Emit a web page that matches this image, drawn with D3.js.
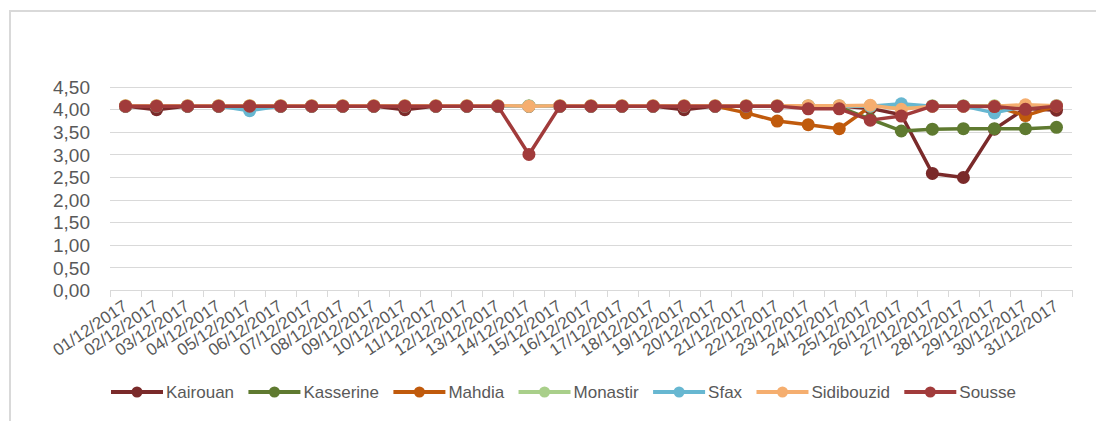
<!DOCTYPE html>
<html>
<head>
<meta charset="utf-8">
<script src="https://cdn.jsdelivr.net/npm/d3@7"></script>
<style>
  html, body { margin: 0; padding: 0; background: #ffffff; }
  svg { display: block; font-family: "Liberation Sans", Arial, sans-serif; }
</style>
</head>
<body>
<svg id="chart" width="1096" height="421"></svg>
<script>
// Daily values, December 2017
const dates = [
  "01/12/2017", "02/12/2017", "03/12/2017", "04/12/2017", "05/12/2017",
  "06/12/2017", "07/12/2017", "08/12/2017", "09/12/2017", "10/12/2017",
  "11/12/2017", "12/12/2017", "13/12/2017", "14/12/2017", "15/12/2017",
  "16/12/2017", "17/12/2017", "18/12/2017", "19/12/2017", "20/12/2017",
  "21/12/2017", "22/12/2017", "23/12/2017", "24/12/2017", "25/12/2017",
  "26/12/2017", "27/12/2017", "28/12/2017", "29/12/2017", "30/12/2017",
  "31/12/2017"
];

const seriesNames = ["Kairouan", "Kasserine", "Mahdia", "Monastir", "Sfax", "Sidibouzid", "Sousse"];
const seriesColors = ["#7a2a2a", "#5f7a30", "#c05a0c", "#a9cf8a", "#67b7d1", "#f5ae6f", "#a13b3b"];

const kairouan = [4.07, 3.99, 4.07, 4.07, 4.07, 4.07, 4.07, 4.07, 4.07, 3.99,
                  4.07, 4.07, 4.07, 4.07, 4.07, 4.07, 4.07, 4.07, 3.99, 4.07,
                  4.07, 4.07, 4.07, 4.07, 4.02, 3.88, 2.58, 2.49, 3.56, 4.02,
                  3.98];
const kasserine = [4.07, 4.07, 4.07, 4.07, 4.07, 4.07, 4.07, 4.07, 4.07, 4.07,
                   4.07, 4.07, 4.07, 4.07, 4.07, 4.07, 4.07, 4.07, 4.07, 4.07,
                   4.07, 4.07, 4.07, 4.05, 3.78, 3.52, 3.56, 3.57, 3.57, 3.57,
                   3.60];
const mahdia = [4.07, 4.07, 4.07, 4.07, 4.07, 4.07, 4.07, 4.07, 4.07, 4.07,
                4.07, 4.07, 4.07, 4.07, 4.07, 4.07, 4.07, 4.07, 4.07, 4.07,
                3.92, 3.74, 3.66, 3.57, 4.06, 4.07, 4.07, 4.07, 4.07, 3.86,
                4.07];
const monastir = [4.08, 4.08, 4.08, 4.08, 4.08, 4.08, 4.08, 4.08, 4.08, 4.08,
                  4.08, 4.08, 4.08, 4.08, 4.08, 4.08, 4.08, 4.08, 4.08, 4.08,
                  4.08, 4.08, 4.08, 4.08, 4.08, 4.08, 4.08, 4.08, 4.08, 4.08,
                  4.08];
const sfax = [4.07, 4.07, 4.07, 4.07, 3.97, 4.07, 4.07, 4.07, 4.07, 4.07,
              4.07, 4.07, 4.07, 4.07, 4.07, 4.07, 4.07, 4.07, 4.07, 4.07,
              4.07, 4.07, 4.07, 4.07, 4.07, 4.12, 4.07, 4.07, 3.92, 4.07,
              4.08];
const sidibouzid = [4.08, 4.08, 4.08, 4.08, 4.08, 4.08, 4.08, 4.08, 4.08, 4.08,
                    4.08, 4.08, 4.08, 4.07, 4.08, 4.08, 4.08, 4.08, 4.08, 4.08,
                    4.08, 4.08, 4.08, 4.08, 4.09, 4.00, 4.07, 4.07, 4.07, 4.10,
                    4.08];
const sousse = [4.07, 4.07, 4.07, 4.07, 4.07, 4.07, 4.07, 4.07, 4.07, 4.07,
                4.07, 4.07, 4.07, 3.00, 4.07, 4.07, 4.07, 4.07, 4.07, 4.07,
                4.07, 4.07, 4.01, 4.01, 3.76, 3.85, 4.07, 4.07, 4.06, 4.00,
                4.07];

const yTicks = [0, 0.5, 1, 1.5, 2, 2.5, 3, 3.5, 4, 4.5];

const seriesValues = [kairouan, kasserine, mahdia, monastir, sfax, sidibouzid, sousse];
const series = seriesNames.map((name, i) => ({ name, color: seriesColors[i], values: seriesValues[i] }));

// Layout
const plot = { left: 110, right: 1072, top: 86.7, bottom: 290 };
const textColor = "#595959";
const gridColor = "#d9d9d9";

const svg = d3.select("#chart");

// Chart frame (left and top edges)
svg.append("path")
  .attr("d", "M10,421 V11 H1096")
  .attr("fill", "none")
  .attr("stroke", "#d9d9d9")
  .attr("stroke-width", 2);

const x = d3.scaleBand().domain(dates).range([plot.left, plot.right]).padding(0);
const y = d3.scaleLinear().domain([0, 4.5]).range([plot.bottom, plot.top]);
const cx = d => x(d) + x.bandwidth() / 2;
const fmt = v => d3.format(".2f")(v).replace(".", ",");

// Horizontal gridlines
svg.append("g")
  .selectAll("line")
  .data(yTicks)
  .join("line")
  .attr("x1", plot.left).attr("x2", plot.right)
  .attr("y1", d => Math.round(y(d)) + 0.5).attr("y2", d => Math.round(y(d)) + 0.5)
  .attr("stroke", gridColor).attr("stroke-width", 1);

// Y axis labels
const yAxis = svg.append("g")
  .attr("transform", `translate(${plot.left - 20},0)`)
  .call(d3.axisLeft(y).tickValues(yTicks).tickFormat(fmt).tickSize(0).tickPadding(0));
yAxis.select(".domain").remove();
yAxis.selectAll("text")
  .attr("fill", textColor)
  .style("font-size", "19px")
  .attr("dy", "0.35em");

// X axis with tick marks on category boundaries
const boundaries = d3.range(dates.length + 1).map(i => plot.left + i * x.bandwidth());
const xg = svg.append("g");
xg.append("line")
  .attr("x1", plot.left).attr("x2", plot.right)
  .attr("y1", plot.bottom + 0.5).attr("y2", plot.bottom + 0.5)
  .attr("stroke", gridColor).attr("stroke-width", 1);
xg.selectAll("line.tick")
  .data(boundaries)
  .join("line")
  .attr("class", "tick")
  .attr("x1", d => Math.round(d) + 0.5).attr("x2", d => Math.round(d) + 0.5)
  .attr("y1", plot.bottom).attr("y2", plot.bottom + 7)
  .attr("stroke", gridColor).attr("stroke-width", 1);

xg.selectAll("text")
  .data(dates)
  .join("text")
  .attr("transform", d => `translate(${cx(d) + 3},${plot.bottom + 19}) rotate(-34)`)
  .attr("text-anchor", "end")
  .attr("fill", textColor)
  .style("font-size", "17px")
  .text(d => d);

// Series lines and markers
const line = d3.line()
  .x((v, i) => cx(dates[i]))
  .y(v => y(v));

series.forEach(s => {
  const g = svg.append("g").attr("class", "series");
  g.append("path")
    .datum(s.values)
    .attr("d", line)
    .attr("fill", "none")
    .attr("stroke", s.color)
    .attr("stroke-width", 3.5)
    .attr("stroke-linejoin", "round")
    .attr("stroke-linecap", "round");
  g.selectAll("circle")
    .data(s.values)
    .join("circle")
    .attr("cx", (v, i) => cx(dates[i]))
    .attr("cy", v => y(v))
    .attr("r", 6.5)
    .attr("fill", s.color);
});

// Legend
const legendY = 392;
const legendLeft = 111, legendRight = 1016;
const swatchLen = 52, swatchGap = 3;
const legend = svg.append("g");
const items = legend.selectAll("g")
  .data(series)
  .join("g");
items.append("line")
  .attr("x1", 0).attr("x2", swatchLen)
  .attr("y1", 0).attr("y2", 0)
  .attr("stroke", d => d.color).attr("stroke-width", 4);
items.append("circle")
  .attr("cx", swatchLen / 2).attr("cy", 0).attr("r", 5.5)
  .attr("fill", d => d.color);
items.append("text")
  .attr("x", swatchLen + swatchGap)
  .attr("y", 0).attr("dy", "0.35em")
  .attr("fill", textColor)
  .style("font-size", "17px")
  .text(d => d.name);

const widths = [];
items.each(function() { widths.push(swatchLen + swatchGap + d3.select(this).select("text").node().getComputedTextLength()); });
const gap = (legendRight - legendLeft - d3.sum(widths)) / (widths.length - 1);
let pos = legendLeft;
items.each(function(d, i) {
  d3.select(this).attr("transform", `translate(${pos},${legendY})`);
  pos += widths[i] + gap;
});
</script>
</body>
</html>
